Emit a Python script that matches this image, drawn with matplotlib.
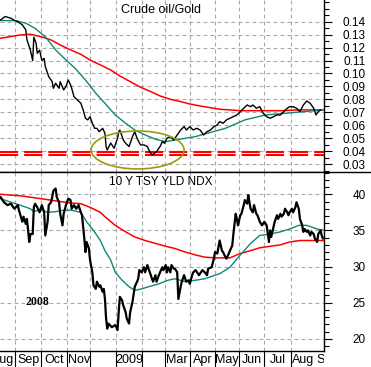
import numpy as np
import pandas as pd
import matplotlib
matplotlib.use("Agg")
import matplotlib.pyplot as plt
from matplotlib.patches import Ellipse
from matplotlib.lines import Line2D
from matplotlib.transforms import Bbox, TransformedBbox

plt.rcParams['font.family'] = ['Liberation Sans', 'DejaVu Sans']

# x positions are trading-day index, 0 = 2008-08-13
# Crude oil / Gold ratio
og_day = [0, 4, 9, 12, 15, 19, 22, 23, 26, 28, 29, 31, 32, 34, 36, 38, 39, 42, 45, 46,
          48, 51, 52, 55, 57, 58, 59, 61, 62, 64, 67, 70, 72, 74, 76, 78, 80, 82, 84, 86,
          89, 91, 92, 93, 96, 99, 102, 103, 104, 107, 109, 112, 115, 117, 119, 122, 125, 128, 130, 132,
          134, 136, 139, 141, 143, 145, 148, 151, 154, 157, 160, 162, 165, 168, 171, 174, 177, 180, 183, 186,
          189, 191, 194, 197, 200, 203, 206, 209, 212, 215, 218, 220, 223, 226, 229, 232, 235, 238, 241, 244,
          247, 250, 252, 255, 258, 261, 264, 267, 270, 273, 275, 277, 279]
og_val = [0.1413, 0.1440, 0.1426, 0.1410, 0.1400, 0.1375, 0.1336, 0.1260, 0.1180, 0.1100,
          0.1280, 0.1233, 0.1156, 0.1180, 0.1100, 0.1117, 0.1053, 0.0976, 0.0937, 0.0886,
          0.0925, 0.0886, 0.0937, 0.0873, 0.0900, 0.0925, 0.0950, 0.0912, 0.0886, 0.0821,
          0.0796, 0.0770, 0.0719, 0.0655, 0.0642, 0.0667, 0.0616, 0.0577, 0.0577, 0.0551,
          0.0577, 0.0539, 0.0436, 0.0410, 0.0464, 0.0423, 0.0500, 0.0551, 0.0564, 0.0487,
          0.0462, 0.0436, 0.0513, 0.0551, 0.0500, 0.0449, 0.0449, 0.0436, 0.0397, 0.0371,
          0.0384, 0.0397, 0.0436, 0.0474, 0.0462, 0.0500, 0.0513, 0.0487, 0.0526, 0.0564,
          0.0590, 0.0564, 0.0590, 0.0564, 0.0577, 0.0564, 0.0526, 0.0551, 0.0564, 0.0590,
          0.0603, 0.0629, 0.0616, 0.0642, 0.0655, 0.0667, 0.0680, 0.0706, 0.0732, 0.0757,
          0.0744, 0.0757, 0.0732, 0.0744, 0.0693, 0.0667, 0.0655, 0.0667, 0.0680, 0.0680,
          0.0706, 0.0732, 0.0744, 0.0744, 0.0732, 0.0706, 0.0757, 0.0788, 0.0770, 0.0732,
          0.0680, 0.0706, 0.0719]
og_ma50_day = [0, 13, 22, 30, 39, 48, 57, 65, 74, 83, 91, 100, 109, 117, 126, 135, 144, 152,
               161, 170, 178, 196, 213, 231, 248, 265, 281]
og_ma50 = [0.1408, 0.1408, 0.1388, 0.1349, 0.1284, 0.1182, 0.1104, 0.1040, 0.0950, 0.0848,
           0.0770, 0.0680, 0.0616, 0.0564, 0.0526, 0.0493, 0.0474, 0.0487, 0.0500, 0.0513,
           0.0533, 0.0577, 0.0642, 0.0680, 0.0693, 0.0706, 0.0719]
og_ma200_day = [0, 17, 26, 35, 44, 52, 61, 70, 78, 87, 96, 104, 113, 122, 131, 139, 148, 157,
                165, 174, 183, 191, 200, 209, 226, 244, 261, 281]
og_ma200 = [0.1272, 0.1297, 0.1303, 0.1284, 0.1259, 0.1220, 0.1182, 0.1148, 0.1104, 0.1066,
            0.1027, 0.0981, 0.0937, 0.0894, 0.0860, 0.0827, 0.0801, 0.0783, 0.0765, 0.0749,
            0.0736, 0.0724, 0.0719, 0.0713, 0.0713, 0.0713, 0.0719, 0.0719]
support_levels = [0.0395, 0.0372]

# 10 Y TSY YLD NDX
ty_day = [0, 3, 6, 9, 12, 15, 16, 19, 20, 22, 23, 25, 26, 28, 29, 30, 32, 34, 36, 38,
          39, 41, 42, 44, 45, 46, 48, 49, 51, 52, 54, 55, 57, 59, 61, 62, 64, 66, 68, 70,
          71, 72, 73, 74, 75, 77, 78, 80, 81, 83, 84, 86, 87, 89, 90, 91, 92, 93, 94, 97,
          100, 102, 103, 104, 106, 107, 109, 110, 112, 113, 115, 116, 117, 119, 120, 121, 123, 125, 126, 128,
          129, 131, 132, 133, 135, 136, 138, 141, 142, 144, 145, 146, 148, 149, 151, 152, 154, 155, 157, 158,
          160, 161, 162, 164, 165, 167, 168, 170, 173, 176, 178, 180, 181, 184, 186, 187, 189, 190, 191, 193,
          194, 196, 197, 199, 200, 202, 203, 205, 206, 207, 209, 210, 212, 213, 215, 216, 217, 218, 220, 221,
          223, 224, 226, 228, 230, 232, 234, 235, 236, 238, 239, 241, 242, 244, 245, 247, 248, 250, 251, 252,
          254, 255, 257, 258, 260, 261, 263, 264, 265, 267, 268, 270, 271, 273, 274, 276, 277, 279, 280, 281]
ty_val = [39.6, 38.9, 38.5, 38.7, 38.0, 38.5, 37.8, 36.2, 36.9, 35.9, 36.6, 33.4, 34.5, 34.5, 38.2, 38.7, 38.2, 37.5, 38.5, 37.5,
          34.3, 36.2, 38.5, 38.9, 39.6, 40.5, 40.8, 39.6, 38.9, 37.3, 35.7, 37.3, 38.5, 39.4, 39.2, 38.0, 38.5, 38.0, 38.5, 37.5,
          37.1, 35.5, 33.9, 32.0, 33.4, 32.5, 30.9, 29.2, 27.4, 26.9, 27.9, 27.2, 27.4, 26.5, 26.9, 25.5, 22.8, 21.4, 22.1, 21.6,
          21.9, 21.2, 23.7, 25.8, 25.3, 24.6, 23.7, 22.8, 22.1, 23.7, 25.1, 26.2, 27.2, 27.9, 28.3, 29.5, 29.2, 29.9, 29.2, 30.2,
          29.7, 28.8, 28.3, 27.9, 28.8, 27.9, 28.8, 29.9, 29.5, 30.2, 29.2, 29.9, 29.2, 30.2, 29.7, 29.7, 29.2, 25.5, 27.2, 27.9,
          28.8, 28.3, 27.9, 28.1, 27.6, 28.8, 29.2, 29.5, 28.8, 29.5, 29.2, 28.8, 29.7, 29.9, 31.1, 32.0, 31.8, 32.7, 33.6, 32.2,
          32.0, 31.3, 31.1, 31.8, 32.2, 32.9, 34.5, 37.3, 36.6, 35.7, 37.1, 37.3, 38.5, 39.2, 38.7, 39.9, 38.9, 38.0, 37.5, 38.5,
          37.3, 37.1, 36.2, 35.7, 36.2, 35.7, 33.4, 35.0, 34.1, 35.5, 36.2, 37.1, 36.6, 37.3, 36.9, 37.3, 38.0, 37.5, 37.1, 37.5,
          38.0, 37.5, 38.2, 38.9, 38.0, 36.6, 35.7, 34.8, 35.2, 34.8, 35.0, 34.3, 34.8, 34.5, 33.9, 33.4, 34.5, 35.0, 34.3, 33.9]
ty_ma50_day = [0, 9, 17, 26, 29, 35, 41, 48, 55, 62, 70, 75, 81, 87, 91, 96, 100, 106, 112, 117,
               123, 129, 138, 146, 152, 161, 170, 178, 187, 191, 200, 209, 218, 226, 235, 244, 252, 260,
               267, 276, 283]
ty_ma50 = [39.4, 38.9, 38.5, 38.0, 37.6, 37.9, 37.5, 37.6, 37.8, 37.8, 37.5, 36.2, 35.0, 33.6, 32.2, 30.9,
           29.2, 28.1, 27.2, 26.7, 26.9, 27.2, 27.6, 28.1, 28.3, 27.9, 28.1, 28.3, 28.8, 29.0, 29.9, 31.6,
           33.2, 34.3, 34.5, 34.8, 35.2, 35.7, 35.7, 35.2, 35.0]
ty_ma200_day = [0, 17, 35, 52, 61, 70, 78, 87, 91, 100, 109, 117, 126, 135, 144, 152, 161, 170,
                178, 187, 200, 209, 218, 226, 235, 244, 252, 261, 270, 283]
ty_ma200 = [40.0, 39.8, 39.4, 39.0, 38.8, 38.7, 38.2, 37.5, 36.9, 35.7, 34.8, 34.1, 33.6, 33.2, 32.8,
            32.5, 32.0, 31.6, 31.3, 31.2, 31.2, 31.8, 32.2, 32.6, 32.8, 33.0, 33.4, 33.6, 33.6, 33.6]

month_names = ['Aug', 'Sep', 'Oct', 'Nov', '', '2009', '', 'Mar', 'Apr', 'May', 'Jun', 'Jul', 'Aug', 'Sep']

# trading-day calendar for month boundaries
days = pd.bdate_range('2008-08-01', '2009-09-30')
pos = np.arange(len(days)) - days.get_loc(pd.Timestamp('2008-08-13'))
per = days.to_period('M')
new_month = np.r_[True, per[1:] != per[:-1]]
starts = pos[new_month]
ends = np.r_[starts[1:], pos[-1] + 1]
centers = (starts + ends) / 2.0

W, H = 371, 367
fig = plt.figure(figsize=(W / 100, H / 100), dpi=100)
ax1 = fig.add_axes([0, 1 - 172 / H, 324 / W, 172 / H])
ax2 = fig.add_axes([0, 16 / H, 324 / W, 179 / H])

grid_kw = dict(color='#a8a8a8', lw=0.8, dashes=(3.5, 2.8))
red = '#ff0000'
teal = '#108878'
xmax = 282

for ax in (ax1, ax2):
    ax.set_xlim(-0.5, xmax)
    for s in ('left', 'top'):
        ax.spines[s].set_visible(False)
    ax.spines['right'].set_linewidth(1.0)
    ax.spines['bottom'].set_linewidth(1.0)
    ax.yaxis.tick_right()
    ax.set_xticks(starts[1:-1])
    ax.tick_params(axis='y', which='major', direction='out', length=6, width=0.8,
                   labelsize=8.5, pad=24)
    ax.tick_params(axis='y', which='minor', direction='out', length=3.5, width=0.8)
    for x in starts[1:-1]:
        ax.axvline(x, zorder=0, **grid_kw)

# top panel
ax1.set_ylim(0.0240, 0.1567)
ax1.set_yticks(np.arange(0.03, 0.1451, 0.01))
ax1.set_yticks(np.arange(0.025, 0.156, 0.005), minor=True)
ax1.set_yticklabels([f'{v:.2f}' for v in np.arange(0.03, 0.1451, 0.01)])
ax1.tick_params(axis='x', length=0, labelbottom=False)
for v in np.arange(0.03, 0.1451, 0.01):
    ax1.axhline(v, zorder=0, **grid_kw)
for lvl in support_levels:
    ax1.axhline(lvl, color=red, lw=1.5, dashes=(8.7, 2.9), zorder=2)
ax1.plot(og_ma200_day, og_ma200, color=red, lw=1.1, zorder=3)
ax1.plot(og_ma50_day, og_ma50, color=teal, lw=1.0, zorder=3)
ax1.plot(og_day, og_val, color='black', lw=1.0, zorder=4)
ax1.add_patch(Ellipse((119.5, 0.0410), 81, 0.0293, fill=False, ec='#9c9a10', lw=1.2, zorder=5))
ax1.text(0.496, 0.942, 'Crude oil/Gold', transform=ax1.transAxes, ha='center', va='center',
         fontsize=9)

# bottom panel
ax2.set_ylim(18.30, 43.09)
ax2.set_yticks([20, 25, 30, 35, 40])
ax2.set_yticks(np.arange(19, 44, 1), minor=True)
for v in [20, 25, 30, 35, 40]:
    ax2.axhline(v, zorder=0, **grid_kw)
ax2.plot(ty_ma200_day, ty_ma200, color=red, lw=1.1, zorder=3)
ax2.plot(ty_ma50_day, ty_ma50, color=teal, lw=1.0, zorder=3)
ax2.plot(ty_day, ty_val, color='black', lw=1.6, zorder=4)
ax2.tick_params(axis='x', direction='out', length=11.5, width=0.8, labelbottom=False)
ax2.text(0.496, 0.944, '10 Y TSY YLD NDX', transform=ax2.transAxes, ha='center', va='center',
         fontsize=8.5)
ax2.text(36.7 / 1.149, 25.1, '2008', ha='center', va='center', fontsize=8.5,
         fontweight='bold', family=['Liberation Serif', 'DejaVu Serif'])

for ax in (ax1, ax2):
    for lab in ax.get_yticklabels():
        lab.set_horizontalalignment('right')

# month labels below the lower panel, clipped at the right axis
clip = TransformedBbox(Bbox.from_extents(-0.2, -1, 1.0, 1), ax2.transAxes)
for c, name in zip(centers, month_names):
    t = ax2.text(c, -0.05, name, transform=ax2.get_xaxis_transform(), ha='center',
                 va='center', fontsize=9, clip_on=True)
    t.set_clip_box(clip)

# separator line between panels
fig.add_artist(Line2D([0, 1], [1 - 172 / H, 1 - 172 / H], color='black', lw=1.0))

fig.savefig('out.png', dpi=100)
